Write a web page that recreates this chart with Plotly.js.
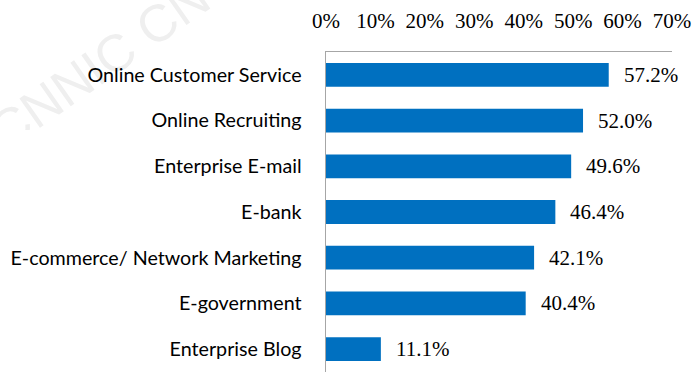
<!DOCTYPE html>
<html>
<head>
<meta charset="utf-8">
<script src="https://cdn.plot.ly/plotly-3.0.1.min.js"></script>
<style>
  html, body { margin: 0; padding: 0; background: #fff; }
  #plot { width: 692px; height: 372px; }
</style>
</head>
<body>
<div id="plot"></div>
<script>
// categories from top to bottom
let services = [
  "Online Customer Service",
  "Online Recruiting",
  "Enterprise E-mail",
  "E-bank",
  "E-commerce/ Network Marketing",
  "E-government",
  "Enterprise Blog"
];
let usage = [57.2, 52.0, 49.6, 46.4, 42.1, 40.4, 11.1];
let tickVals = [0, 10, 20, 30, 40, 50, 60, 70];
let tickText = tickVals.map(v => v + "%");

let serif = "Liberation Serif, Times New Roman, serif";

let trace = {
  type: "bar",
  orientation: "h",
  x: usage,
  y: services,
  marker: { color: "#0070C0" },
  hoverinfo: "none"
};

// value labels to the right of each bar
let notes = usage.map((v, i) => ({
  x: v,
  y: services[i],
  xref: "x",
  yref: "y",
  text: v.toFixed(1) + "%",
  showarrow: false,
  xanchor: "left",
  xshift: 13,
  font: { family: serif, size: 21, color: "#000" }
}));

// faint watermark behind everything, top left corner
let mark = '<svg xmlns="http://www.w3.org/2000/svg" width="230" height="130">' +
  '<text x="100" y="82" transform="rotate(-35 100 65)" text-anchor="middle" ' +
  'font-family="Liberation Sans" font-size="52" fill="#efefef">CNNIC CN</text></svg>';

let layout = {
  width: 692,
  height: 372,
  margin: { l: 326, r: 20, t: 52, b: 0 },
  paper_bgcolor: "#fff",
  plot_bgcolor: "rgba(0,0,0,0)",
  bargap: 0.48,
  showlegend: false,
  xaxis: {
    side: "top",
    range: [0, 70],
    tickvals: tickVals,
    ticktext: tickText,
    ticks: "",
    ticklabelstandoff: 14,
    showgrid: false,
    zeroline: false,
    showline: true,
    linecolor: "#a6a6a6",
    linewidth: 1.5,
    tickfont: { family: serif, size: 21, color: "#000" }
  },
  yaxis: {
    autorange: "reversed",
    ticks: "",
    ticklabelstandoff: 19,
    showgrid: false,
    zeroline: false,
    showline: true,
    linecolor: "#a6a6a6",
    linewidth: 1.5,
    tickfont: { family: "Lato", size: 19.7, color: "#000" }
  },
  annotations: notes,
  images: [{
    source: "data:image/svg+xml;charset=utf-8," + encodeURIComponent(mark),
    xref: "paper", yref: "paper",
    x: -326 / 346, y: 1 + 52 / 320,
    sizex: 230 / 346, sizey: 130 / 320,
    sizing: "stretch",
    xanchor: "left", yanchor: "top",
    layer: "below"
  }]
};

Plotly.newPlot("plot", [trace], layout, { displayModeBar: false, staticPlot: true });
</script>
</body>
</html>
